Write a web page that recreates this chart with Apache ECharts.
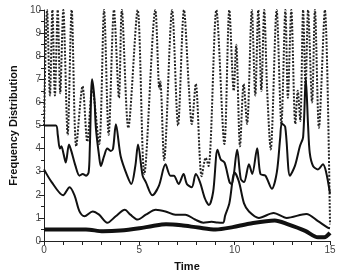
<!DOCTYPE html>
<html><head><meta charset="utf-8">
<script src="https://cdn.jsdelivr.net/npm/echarts@6/dist/echarts.min.js"></script>
<style>html,body{margin:0;padding:0;background:#fff}#c{width:346px;height:277px}</style>
</head><body><div id="c"></div>
<script>
// Upper solid line (starts at 5)
const upperT = [0,0.62,0.72,0.83,0.91,1.03,1.14,1.31,1.43,1.65,1.86,2.03,2.21,2.34,2.4,2.52,2.64,2.72,2.89,2.98,3.15,3.32,3.5,3.62,3.77,4.02,4.36,4.58,4.79,4.93,5.17,5.34,5.68,6.03,6.37,6.63,6.81,7.06,7.32,7.49,7.75,7.96,8.18,8.44,8.65,8.87,9.1,9.27,9.47,9.73,9.85,10.13,10.32,10.49,10.75,10.92,11.18,11.35,11.61,11.95,12.21,12.39,12.47,12.65,12.9,13.16,13.42,13.59,13.73,13.85,13.94,14.11,14.37,14.63,14.8,15.0];
const upperV = [5.0,5.0,4.6,4.0,4.1,3.75,3.4,4.18,3.9,3.25,2.83,2.9,2.83,2.97,3.97,7.0,6.2,4.9,3.67,3.25,3.67,4.0,3.9,4.0,5.05,3.67,2.83,2.47,3.25,4.18,2.83,2.55,1.98,2.4,3.32,2.83,2.83,2.47,2.9,2.47,2.33,2.9,2.55,1.84,1.56,2.12,3.95,3.53,3.39,2.55,2.45,3.95,2.69,2.55,3.32,2.9,4.02,2.9,2.83,2.26,2.97,4.5,5.08,4.94,2.83,3.25,4.1,4.5,7.05,5.0,3.8,3.25,3.1,3.32,2.97,2.05];
// Lower thin solid line (starts at ~3.1)
const lowerT = [0,0.4,1.0,1.34,1.6,1.86,2.12,2.55,2.89,3.32,3.76,4.24,4.53,4.91,5.34,5.86,6.37,6.89,7.41,7.92,8.36,8.79,9.1,9.39,9.5,9.72,10.0,10.23,10.49,10.75,11.27,12.04,12.73,13.76,14.37,14.88,15.0];
const lowerV = [3.1,2.55,1.98,2.33,1.98,1.28,1.07,1.28,1.14,0.79,1.07,1.35,1.14,0.93,1.14,1.35,1.28,1.14,1.14,0.93,0.79,0.83,0.8,0.79,1.1,1.63,2.97,2.55,1.63,1.28,1.0,1.21,1.0,1.17,0.86,0.58,0.55];
// Thick solid line (near 0.5)
const thickT = [0,2.2,3.1,4.0,5.0,5.7,6.4,7.2,8.1,9.0,9.9,10.75,12.1,12.8,13.7,14.37,14.7,15.0];
const thickV = [0.5,0.5,0.42,0.45,0.55,0.65,0.72,0.68,0.58,0.5,0.6,0.75,0.89,0.72,0.44,0.16,0.16,0.35];
// Dotted oscillating line
const dotT = [0,0.16,0.31,0.44,0.57,0.72,0.85,1.01,1.24,1.45,1.69,2.02,2.27,2.53,2.89,3.15,3.39,3.67,3.93,4.08,4.42,4.91,5.26,5.84,6.05,6.1,6.15,6.3,6.72,7.03,7.34,7.6,7.75,7.96,8.27,8.48,8.63,9.04,9.46,9.72,9.95,10.08,10.28,10.47,10.65,10.9,11.08,11.24,11.4,11.55,11.7,11.89,12.2,12.45,12.66,12.79,12.97,13.18,13.31,13.44,13.59,13.72,13.85,14.06,14.21,14.42,14.73,15.0];
const dotV = [5.0,10,6.3,10,6.3,10,6.4,10,4.6,10,4.1,6.7,4.3,6.6,4.2,10,4.6,10,6.2,10,4.9,10,2.9,10,6.6,6.9,6.4,3.5,10,5.0,10,6.6,5.06,6.8,2.8,3.6,3.25,10,4.2,10,6.5,8.5,4.1,6.8,5.07,10,6.3,10,6.5,10,6.6,3.96,10,5.07,10,6.2,10,5.07,6.5,5.2,10,6.6,10,6.0,10,4.9,10,0.72];
// Axis ticks
const xTicks = [0,5,10,15];
const yTicks = [0,1,2,3,4,5,6,7,8,9,10];

function pairs(t, v){ return t.map((x,i)=>[x, v[i]]); }
const chart = echarts.init(document.getElementById('c'), null, {renderer:'canvas'});
const font = 'Liberation Sans, Arial, sans-serif';
chart.setOption({
  animation:false,
  backgroundColor:'#fff',
  grid:{left:40,right:16,top:10,bottom:30},
  xAxis:{type:'value',min:0,max:15,interval:1,
    name:'Time',nameLocation:'middle',nameGap:20,
    nameTextStyle:{fontFamily:font,fontWeight:'bold',fontSize:11,color:'#111'},
    axisLine:{lineStyle:{color:'#222',width:1}},
    axisTick:{length:4,lineStyle:{color:'#222'}},
    axisLabel:{margin:4,fontFamily:font,fontSize:10,color:'#444',
      formatter:v=>xTicks.includes(v)?String(v):''},
    splitLine:{show:false}},
  yAxis:{type:'value',min:0,max:10,interval:1,
    name:'Frequency Distribution',nameLocation:'middle',nameGap:23,
    nameTextStyle:{fontFamily:font,fontWeight:'bold',fontSize:11,color:'#111'},
    axisLine:{show:true,lineStyle:{color:'#222',width:1}},
    axisTick:{length:5,lineStyle:{color:'#222'}},
    minorTick:{show:true,splitNumber:2,length:3,lineStyle:{color:'#222'}},
    axisLabel:{margin:3,fontFamily:font,fontSize:10,color:'#444',
      formatter:v=>yTicks.includes(v)?String(v):''},
    splitLine:{show:false}},
  series:[
    {type:'line',data:pairs(dotT,dotV),showSymbol:false,smooth:0.3,clip:true,
      lineStyle:{color:'#222',width:2,type:[2,1.5]}},
    {type:'line',data:pairs(upperT,upperV),showSymbol:false,smooth:0.3,
      lineStyle:{color:'#111',width:2}},
    {type:'line',data:pairs(lowerT,lowerV),showSymbol:false,smooth:0.3,
      lineStyle:{color:'#111',width:2}},
    {type:'line',data:pairs(thickT,thickV),showSymbol:false,smooth:0.3,
      lineStyle:{color:'#111',width:4}}
  ]
});
</script></body></html>
